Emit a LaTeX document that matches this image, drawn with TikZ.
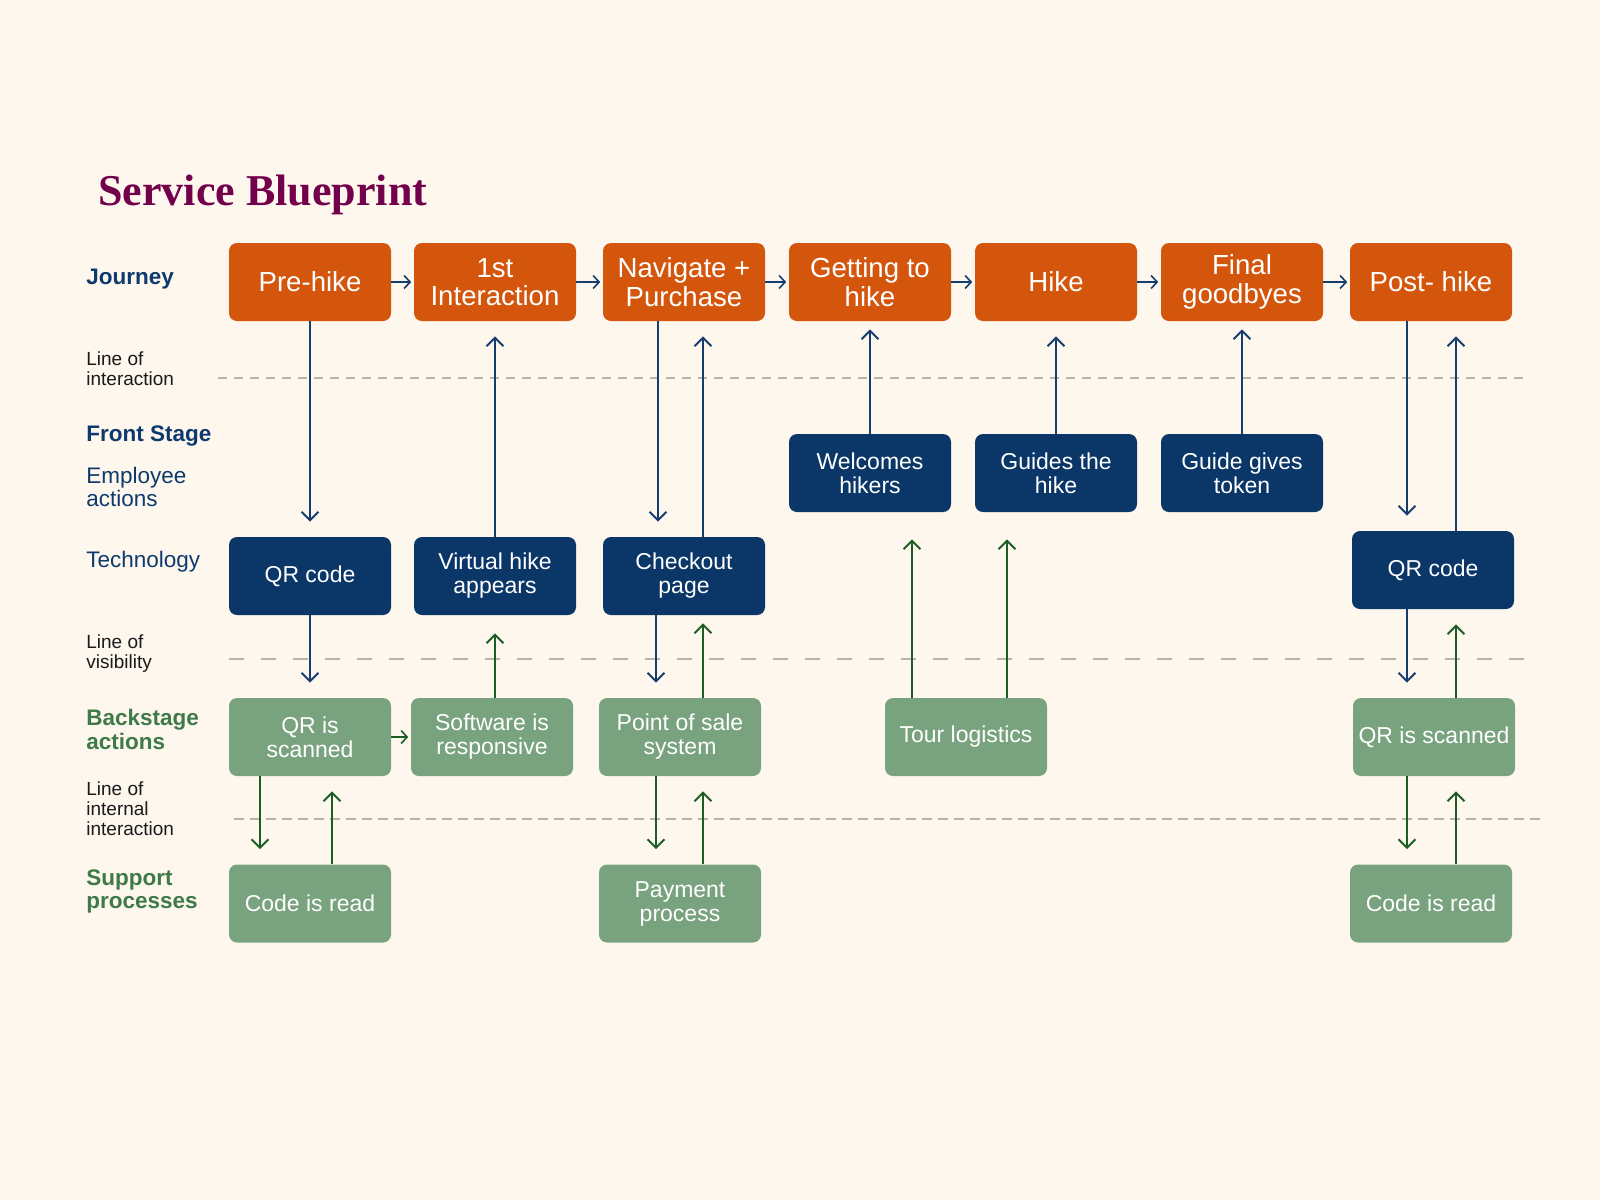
\documentclass[tikz,border=0pt]{standalone}
\usepackage{fontspec}
\setmainfont{Liberation Sans}
\newfontfamily\titlefont{Liberation Serif}
\usetikzlibrary{arrows.meta,calc}
\definecolor{bg}{HTML}{FDF7EE}
\definecolor{orng}{HTML}{D4560D}
\definecolor{navy}{HTML}{0A3668}
\definecolor{sage}{HTML}{79A27F}
\definecolor{navyarr}{HTML}{163D70}
\definecolor{grnarr}{HTML}{1B5E24}
\definecolor{labblue}{HTML}{0E3A6E}
\definecolor{labgreen}{HTML}{3F7A48}
\definecolor{maroon}{HTML}{73004A}
\definecolor{dashgrey}{HTML}{B9B4AA}
\definecolor{labblack}{HTML}{1A1A1A}
\tikzset{
  box/.style={rounded corners=4pt, minimum width=81pt, minimum height=39pt, inner sep=0pt,
    align=center, text=white, font=\fontsize{11.5}{12}\selectfont},
  jbox/.style={box, fill=orng, font=\fontsize{13.8}{14.3}\selectfont},
  nbox/.style={box, fill=navy},
  gbox/.style={box, fill=sage},
  narr/.style={draw=navyarr, line width=1pt, -{Straight Barb[length=4.2pt,width=8.5pt]}, shorten >=7.5pt},
  garr/.style={narr, draw=grnarr},
  harr/.style={draw=navyarr, line width=0.8pt, -{Straight Barb[length=3pt,width=6.5pt]}, shorten >=1.2pt},
  harrg/.style={harr, draw=grnarr},
  sidelab/.style={anchor=base west, inner sep=0pt, align=left},
  headlab/.style={sidelab, font=\bfseries\fontsize{11.25}{11.75}\selectfont},
  sublab/.style={sidelab, font=\fontsize{11.25}{11.75}\selectfont, text=labblue},
  linelab/.style={sidelab, font=\fontsize{9.5}{10}\selectfont, text=labblack},
  divider/.style={draw=dashgrey, line width=1pt}
}
\begin{document}
\begin{tikzpicture}[x=0.5pt,y=-0.5pt]
\fill[bg] (0,0) rectangle (1600,1200);
\useasboundingbox (0,0) rectangle (1600,1200);

% dividers
\draw[divider, dash pattern=on 4.5pt off 3.5pt] (218,377.5) -- (1528,377.5);
\draw[divider, dash pattern=on 7.5pt off 8.5pt] (229,659) -- (1538,659);
\draw[divider, dash pattern=on 5pt off 3pt] (234,819) -- (1541,819);

% title
\node[anchor=base west, inner sep=0pt, text=maroon, font=\titlefont\bfseries\fontsize{22}{24}\selectfont] (title) at (98,205) {Service Blueprint};

% side labels (base = baseline of last line)
\node[headlab, text=labblue] (ljourney) at (86,284) {Journey};
\node[linelab] (lint) at (86,385) {Line of\\interaction};
\node[headlab, text=labblue] (lfront) at (86,441.7) {Front Stage};
\node[sublab] (lemp) at (86,506.7) {Employee\\actions};
\node[sublab] (ltech) at (86,567.3) {Technology};
\node[linelab] (lvis) at (86,668.3) {Line of\\visibility};
\node[headlab, text=labgreen] (lback) at (86,749) {Backstage\\actions};
\node[linelab] (linternal) at (86,835) {Line of\\internal\\interaction};
\node[headlab, text=labgreen] (lsupport) at (86,908.7) {Support\\processes};

% journey
\node[jbox] (prehike) at (310,282) {Pre-hike};
\node[jbox] (first) at (495,282) {1st\\Interaction};
\node[jbox] (navigate) at (684,282) {Navigate +\\Purchase};
\node[jbox] (getting) at (870,282) {Getting to\\hike};
\node[jbox] (hike) at (1056,282) {Hike};
\node[jbox] (final) at (1242,282) {Final\\goodbyes};
\node[jbox] (post) at (1431,282) {Post- hike};

% front stage
\node[nbox] (welcomes) at (870,473) {Welcomes\\hikers};
\node[nbox] (guides) at (1056,473) {Guides the\\hike};
\node[nbox] (token) at (1242,473) {Guide gives\\token};

% technology
\node[nbox] (qr1) at (310,576) {QR code};
\node[nbox] (virtual) at (495,576) {Virtual hike\\appears};
\node[nbox] (checkout) at (684,576) {Checkout\\page};
\node[nbox] (qr2) at (1433,570) {QR code};

% backstage
\node[gbox] (scan1) at (310,737) {QR is\\scanned};
\node[gbox] (software) at (492,737) {Software is\\responsive};
\node[gbox] (pos) at (680,737) {Point of sale\\system};
\node[gbox] (tour) at (966,737) {Tour logistics};
\node[gbox] (scan2) at (1434,737) {QR is scanned};

% support
\node[gbox] (read1) at (310,903.5) {Code is read};
\node[gbox] (payment) at (680,903.5) {Payment\\process};
\node[gbox] (read2) at (1431,903.5) {Code is read};

% journey flow
\draw[harr] (prehike) -- (first);
\draw[harr] (first) -- (navigate);
\draw[harr] (navigate) -- (getting);
\draw[harr] (getting) -- (hike);
\draw[harr] (hike) -- (final);
\draw[harr] (final) -- (post);
\draw[harrg] (scan1) -- (software);

% vertical connectors
\draw[narr] (prehike.south) -- (qr1.north);
\draw[narr] (virtual.north) -- (first.south);
\draw[narr] ($(navigate.south)+(-26,0)$) -- ($(checkout.north)+(-26,0)$);
\draw[narr] ($(checkout.north)+(19,0)$) -- ($(navigate.south)+(19,0)$);
\draw[narr, shorten >=4pt] (welcomes.north) -- (getting.south);
\draw[narr] (guides.north) -- (hike.south);
\draw[narr, shorten >=4pt] (token.north) -- (final.south);
\draw[narr] ($(post.south)+(-24,0)$) -- ($(qr2.north)+(-26,0)$);
\draw[narr] ($(qr2.north)+(23,0)$) -- ($(post.south)+(25,0)$);

\draw[narr] (qr1.south) -- (scan1.north);
\draw[garr] ($(scan1.south)+(-50,0)$) -- ($(read1.north)+(-50,0)$);
\draw[garr] ($(read1.north)+(22,0)$) -- ($(scan1.south)+(22,0)$);
\draw[garr, shorten >=9pt] ($(software.north)+(3,0)$) -- (virtual.south);
\draw[narr] ($(checkout.south)+(-28,0)$) -- ($(pos.north)+(-24,0)$);
\draw[garr, shorten >=4pt] ($(pos.north)+(23,0)$) -- ($(checkout.south)+(19,0)$);
\draw[garr] ($(pos.south)+(-24,0)$) -- ($(payment.north)+(-24,0)$);
\draw[garr] ($(payment.north)+(23,0)$) -- ($(pos.south)+(23,0)$);
\draw[garr, shorten >=13.5pt] ($(tour.north)+(-54,0)$) -- ($(welcomes.south)+(42,0)$);
\draw[garr, shorten >=13.5pt] ($(tour.north)+(41,0)$) -- ($(guides.south)+(-49,0)$);
\draw[narr] ($(qr2.south)+(-26,0)$) -- ($(scan2.north)+(-27,0)$);
\draw[garr] ($(scan2.north)+(22,0)$) -- ($(qr2.south)+(23,0)$);
\draw[garr] ($(scan2.south)+(-27,0)$) -- ($(read2.north)+(-24,0)$);
\draw[garr] ($(read2.north)+(25,0)$) -- ($(scan2.south)+(22,0)$);
\end{tikzpicture}
\end{document}
